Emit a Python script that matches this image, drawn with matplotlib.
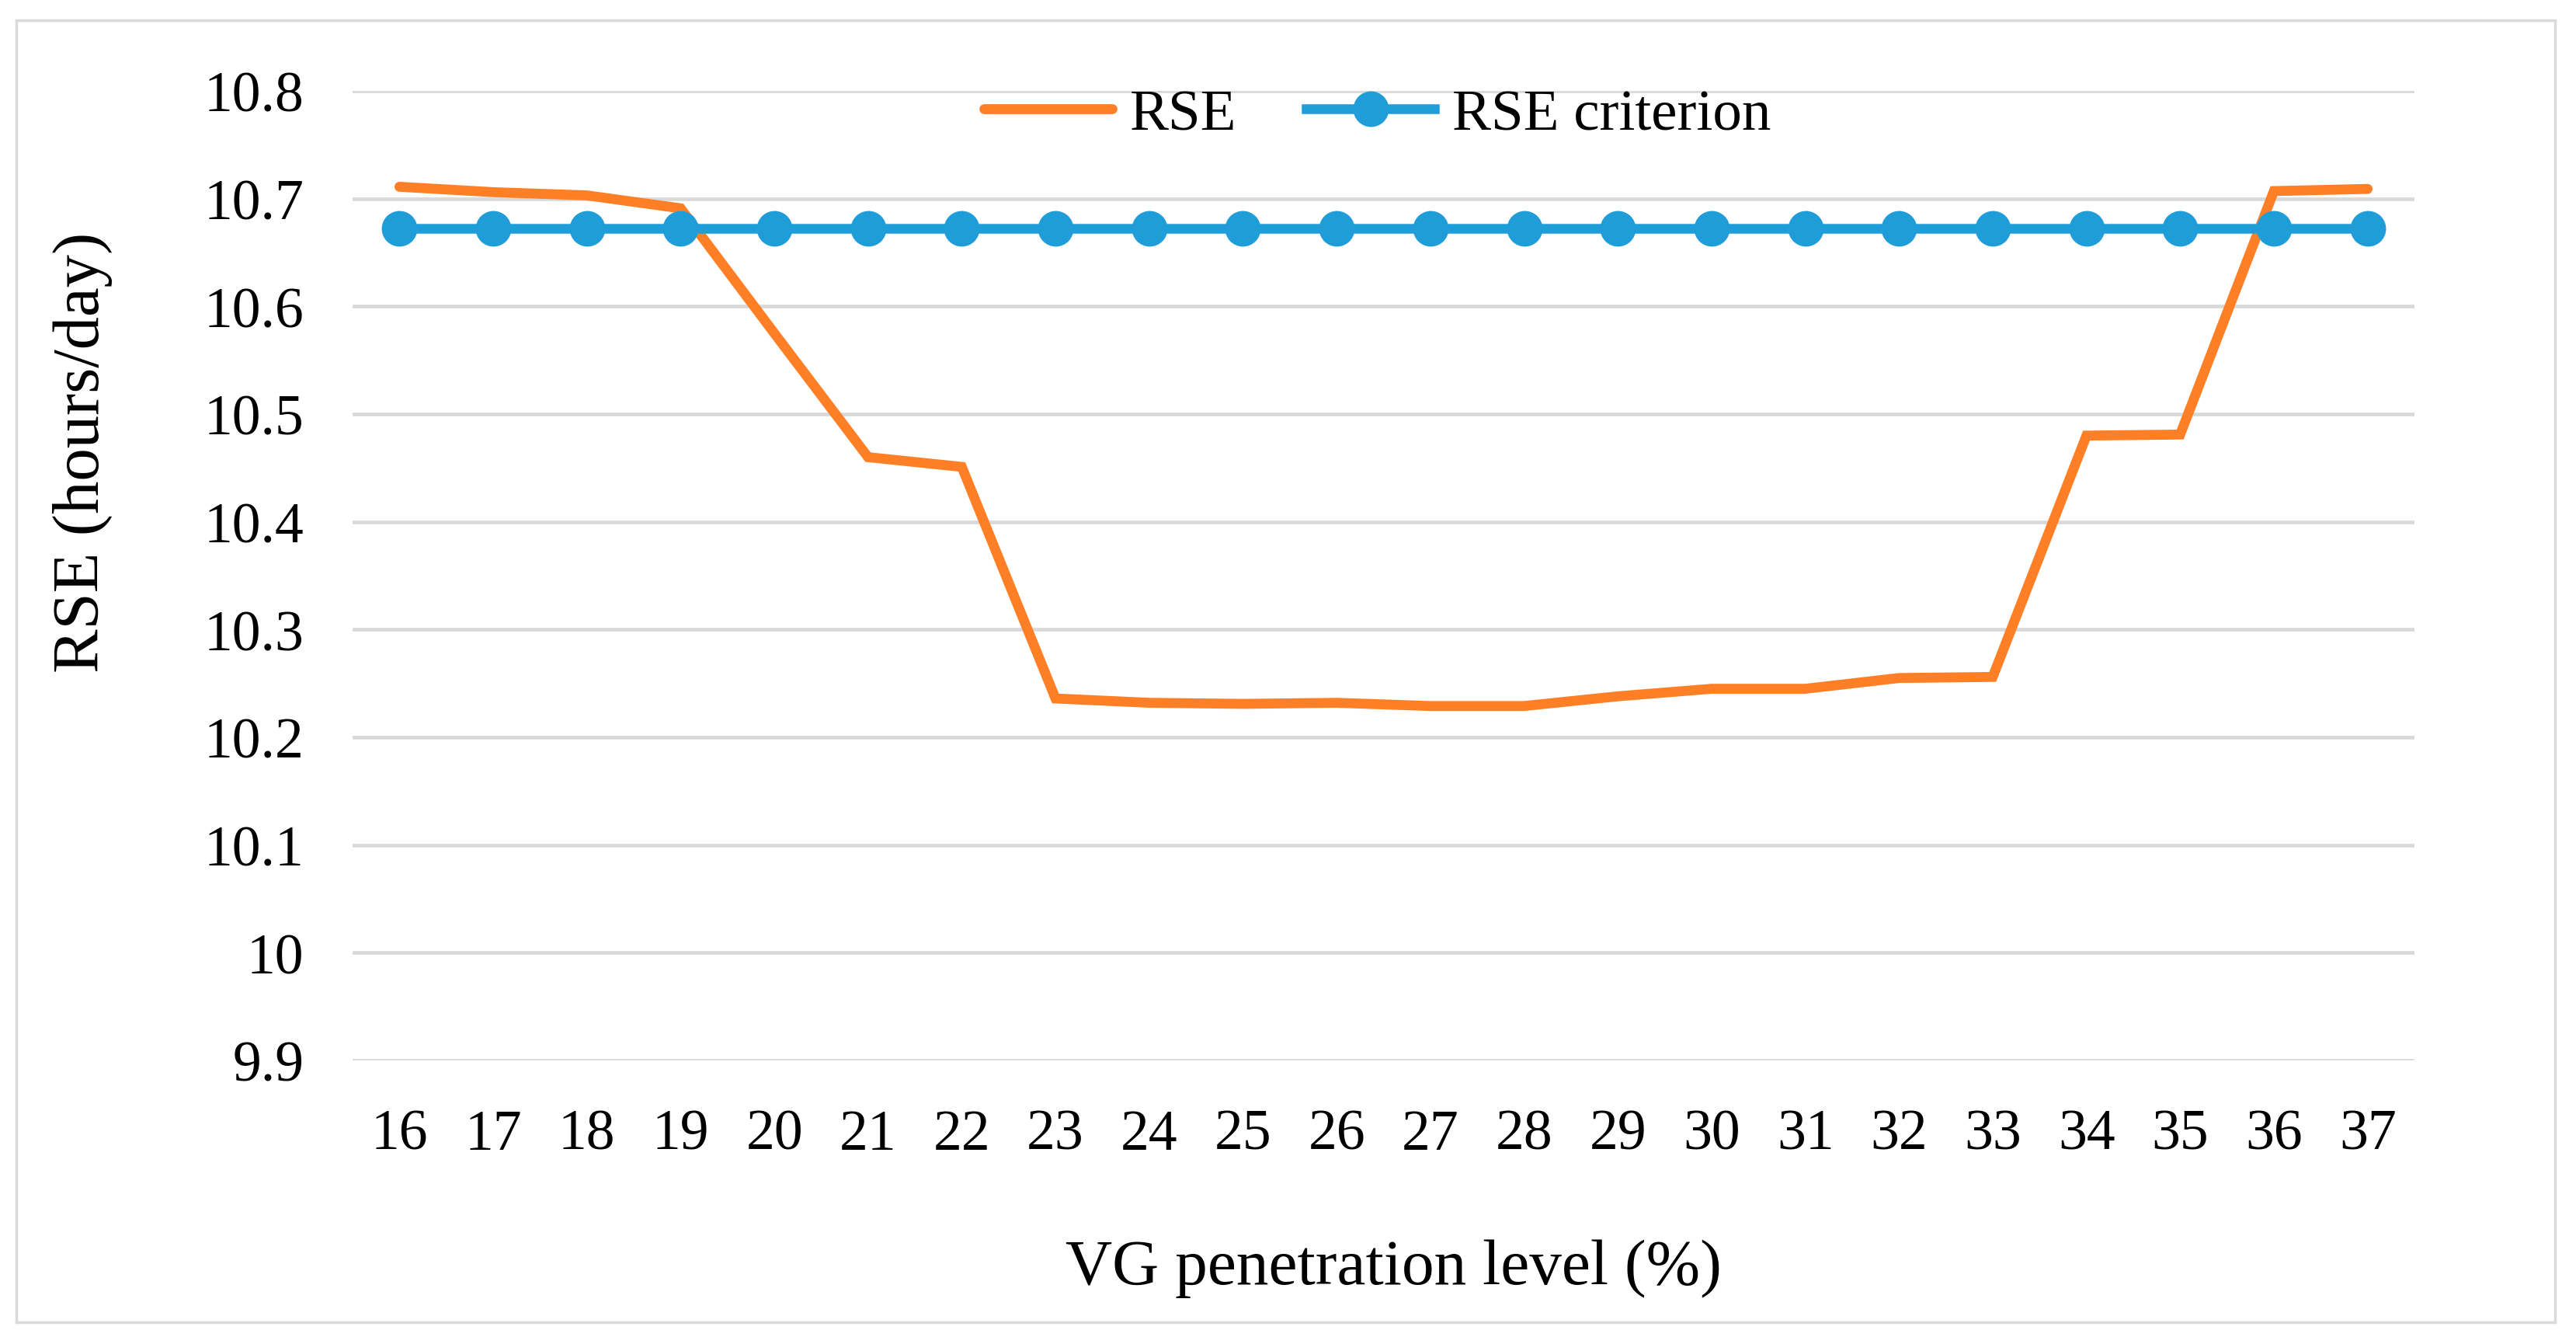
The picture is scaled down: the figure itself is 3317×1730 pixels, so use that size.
import matplotlib
matplotlib.use("Agg")
import matplotlib.pyplot as plt
from matplotlib.patches import Rectangle

# VG penetration level (%) and RSE values
vg_level = list(range(16, 38))
rse = [10.711, 10.706, 10.703, 10.691, 10.575, 10.460, 10.451, 10.236,
       10.232, 10.231, 10.232, 10.229, 10.229, 10.238, 10.245, 10.245,
       10.255, 10.256, 10.480, 10.481, 10.707, 10.709]
rse_criterion = [10.672] * len(vg_level)

y_ticks = [9.9, 10.0, 10.1, 10.2, 10.3, 10.4, 10.5, 10.6, 10.7, 10.8]
y_tick_labels = ["9.9", "10", "10.1", "10.2", "10.3", "10.4", "10.5", "10.6", "10.7", "10.8"]

plt.rcParams['font.family'] = ['Liberation Serif', 'DejaVu Serif']

fig = plt.figure(figsize=(33.17, 17.31), dpi=100)
ax = fig.add_axes([454/3317, 1 - 1366/1731, (3109-454)/3317, (1366-118)/1731])

# outer chart border
fig.patches.append(Rectangle((21/3317, 1 - 1703/1731), (3290-21)/3317, (1703-27)/1731,
                             transform=fig.transFigure, fill=False,
                             edgecolor='#d9d9d9', linewidth=2.5))

x = list(range(len(vg_level)))
ax.plot(x, rse, color='#FF7F27', linewidth=9.2, label='RSE',
        solid_joinstyle='miter', solid_capstyle='round')
ax.plot(x, rse_criterion, color='#1F9DD9', linewidth=9.0, marker='o', markersize=32,
        label='RSE criterion')

ax.set_xlim(-0.5, len(vg_level) - 0.5)
ax.set_ylim(9.9, 10.8)
ax.set_xticks(x)
ax.set_xticklabels([str(v) for v in vg_level])
ax.set_yticks(y_ticks)
ax.set_yticklabels(y_tick_labels)
ax.tick_params(axis='both', length=0, labelsize=53, pad=45)
ax.grid(axis='y', color='#d9d9d9', linewidth=3.4)
ax.set_axisbelow(True)
for s in ax.spines.values():
    s.set_visible(False)

ax.set_xlabel('VG penetration level (%)', fontsize=60)
ax.xaxis.set_label_coords(0.5047, -0.214)
ax.xaxis.label.set_va('center')
ax.set_ylabel('RSE (hours/day)', fontsize=61)
ax.yaxis.set_label_coords(-0.131, 0.628)
ax.yaxis.label.set_va('center')

leg = ax.legend(loc='center', bbox_to_anchor=(0.497, 0.975), ncol=2, frameon=False,
                fontsize=54, handlelength=2.2, columnspacing=1.2, handletextpad=0.3)

fig.savefig('out.png', dpi=100)
